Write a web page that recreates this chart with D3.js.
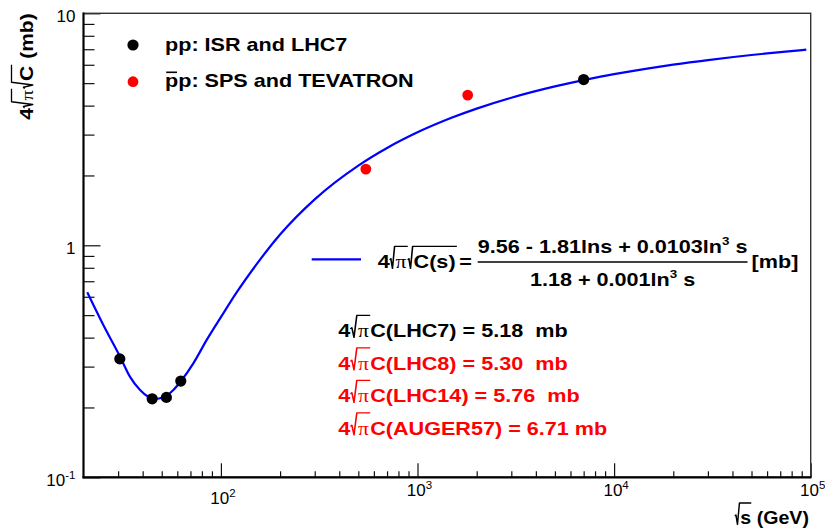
<!DOCTYPE html>
<html>
<head>
<meta charset="utf-8">
<script src="https://cdn.jsdelivr.net/npm/d3@7"></script>
<style>
  body { margin: 0; background: #fff; }
  svg { display: block; }
  text { white-space: pre; }
</style>
</head>
<body>
<svg id="chart" width="825" height="529"></svg>
<script>
// pp measurements (ISR and LHC 7 TeV): sqrt(s) in GeV, 4*sqrt(pi*C) in mb
const ppSqrtS = [30.6, 44.7, 52.8, 62.5, 7000];
const ppValue = [0.324, 0.218, 0.221, 0.260, 5.18];

// pbar-p measurements (SPS and Tevatron)
const ppbarSqrtS = [546, 1800];
const ppbarValue = [2.13, 4.44];

// fitted curve 4*sqrt(pi)*sqrt(C(s)) sampled along sqrt(s)
const fitSqrtS = [20.9, 25, 30.7, 34.5, 38.8, 42.7, 46.2, 50.9, 57.3, 63.2, 72.4, 84.7,
                  100, 120, 150, 200, 300, 500, 700, 1000, 1500, 2000, 3000, 5000,
                  7000, 10000, 15000, 20000, 30000, 50000, 70000, 95000];
const fitValue  = [0.627, 0.46, 0.331, 0.271, 0.238, 0.2225, 0.2176, 0.2212, 0.2378, 0.2626, 0.310, 0.391,
                   0.49, 0.625, 0.817, 1.113, 1.578, 2.206, 2.628, 3.069, 3.554, 3.884, 4.326, 4.841,
                   5.154, 5.464, 5.790, 6.005, 6.286, 6.609, 6.802, 6.967];

// axis decades
const xTickPowers = [2, 3, 4, 5];
const yTickPowers = [-1, 0, 1];

// predicted values listed under the curve
const predictionNames  = ["LHC7", "LHC8", "LHC14", "AUGER57"];
const predictionValues = ["5.18  mb", "5.30  mb", "5.76  mb", "6.71 mb"];
const predictionColors = ["#000000", "#ff0000", "#ff0000", "#ff0000"];

// fit formula pieces
const fitNumerator   = ["9.56 - 1.81lns + 0.0103ln", "3", " s"];
const fitDenominator = ["1.18 + 0.001ln", "3", " s"];

const svg = d3.select("#chart");
const W = 825, H = 529;
const frame = { left: 83.5, right: 810.7, top: 13.3, bottom: 477.3 };

const x = d3.scaleLog().domain([20, 1e5]).range([frame.left, frame.right]);
const y = d3.scaleLog().domain([0.1, 10]).range([frame.bottom, frame.top]);

const SANS = "'Liberation Sans', Arial, Helvetica, sans-serif";
const SERIF = "'Liberation Serif', 'DejaVu Serif', serif";
const STRETCH = 1.2;

svg.append("rect").attr("width", W).attr("height", H).attr("fill", "#fff");

// ---------- small TLatex-like text layout: runs, sqrt, overbar, superscript ----------
function latex(parent, items, opt) {
  const size = opt.size || 18;
  const fill = opt.fill || "#000";
  const sx = opt.sx == null ? STRETCH : opt.sx;
  const lead = opt.lead == null ? 0.36 : opt.lead;
  const g = parent.append("g");
  const inner = g.append("g");
  let cx = 0;
  function place(list) {
    for (const it of list) {
      if (it.gap) { cx += it.gap; continue; }
      if (it.sqrt) {
        const x0 = cx;
        cx += size * lead;
        place(it.sqrt);
        const end = cx + (it.pad == null ? size * 0.06 : it.pad);
        const top = -size * 1.2;
        const k = lead / 0.36;
        inner.append("path")
          .attr("d", `M${x0},${-size * 0.45}L${x0 + size * 0.07 * k},${-size * 0.52}L${x0 + size * 0.17 * k},${size * 0.02}L${x0 + size * 0.3 * k},${top}L${end},${top}`)
          .attr("fill", "none").attr("stroke", fill).attr("stroke-width", 1.3)
          .attr("stroke-linejoin", "round");
        cx = end + (it.after || 0);
      } else if (it.bar) {
        const x0 = cx;
        place(it.bar);
        inner.append("line")
          .attr("x1", x0 + 1).attr("x2", cx - 1)
          .attr("y1", -size * 0.8).attr("y2", -size * 0.8)
          .attr("stroke", fill).attr("stroke-width", 1.6);
      } else {
        const fs = it.sup ? size * 0.62 : size * (it.scale || 1);
        const t = inner.append("text")
          .attr("x", cx).attr("y", it.sup ? -size * 0.45 : 0)
          .attr("font-family", it.sym ? SERIF : SANS)
          .attr("font-weight", it.sym ? "normal" : (opt.weight || "bold"))
          .attr("font-size", fs)
          .attr("fill", fill)
          .text(it.t);
        cx += t.node().getComputedTextLength();
      }
    }
  }
  place(items);
  const w = cx * sx;
  const off = opt.anchor === "end" ? -w : opt.anchor === "middle" ? -w / 2 : 0;
  inner.attr("transform", `translate(${off},0) scale(${sx},1)`);
  g.attr("transform", `translate(${opt.x},${opt.y})` + (opt.rotate ? ` rotate(${opt.rotate})` : ""));
  return w;
}

// ---------- frame and axes ----------
const xMinor = [], yMinor = [];
for (let p = 1; p < 5; p++) for (let m = 2; m <= 9; m++) {
  const v = m * Math.pow(10, p);
  if (v > 20 && v < 1e5) xMinor.push(v);
}
for (let p = -1; p < 1; p++) for (let m = 2; m <= 9; m++) yMinor.push(m * Math.pow(10, p));
const xMajor = xTickPowers.map(p => Math.pow(10, p));
const yMajor = yTickPowers.map(p => Math.pow(10, p));

function styleAxis(sel) {
  sel.select(".domain").remove();
  sel.selectAll(".tick line").attr("stroke", "#111").attr("stroke-width", 1.2);
  sel.selectAll(".tick text").remove();
}

const xAxisG = svg.append("g").attr("transform", `translate(0,${frame.bottom})`);
xAxisG.append("g").call(d3.axisBottom(x).tickValues(xMinor).tickSize(-6).tickFormat("")).call(styleAxis);
xAxisG.append("g").call(d3.axisBottom(x).tickValues(xMajor).tickSize(-14).tickFormat("")).call(styleAxis);

const yAxisG = svg.append("g").attr("transform", `translate(${frame.left},0)`);
yAxisG.append("g").call(d3.axisLeft(y).tickValues(yMinor).tickSize(-11).tickFormat("")).call(styleAxis);
yAxisG.append("g").call(d3.axisLeft(y).tickValues(yMajor).tickSize(-17).tickFormat("")).call(styleAxis);

// frame box, with heavier axis lines on the left and bottom
svg.append("rect")
  .attr("x", frame.left).attr("y", frame.top)
  .attr("width", frame.right - frame.left).attr("height", frame.bottom - frame.top)
  .attr("fill", "none").attr("stroke", "#333").attr("stroke-width", 1.4);
svg.append("line").attr("x1", frame.left).attr("x2", frame.left)
  .attr("y1", frame.top - 0.7).attr("y2", frame.bottom + 1)
  .attr("stroke", "#000").attr("stroke-width", 2);
svg.append("line").attr("x1", frame.left - 1).attr("x2", frame.right + 0.7)
  .attr("y1", frame.bottom).attr("y2", frame.bottom)
  .attr("stroke", "#000").attr("stroke-width", 2.2);

// tick labels
function powerLabel(parent, p, px, py, anchor) {
  const t = parent.append("text")
    .attr("x", px).attr("y", py)
    .attr("text-anchor", anchor)
    .attr("font-family", SANS).attr("font-size", 17).attr("fill", "#000");
  if (p === 0) { t.text("1"); return; }
  t.append("tspan").text("10");
  if (p !== 1) t.append("tspan").attr("font-size", 11.5).attr("dy", -7).text(String(p));
}
xTickPowers.forEach(p => powerLabel(svg, p, x(Math.pow(10, p)) + 2, frame.bottom + (p === 2 ? 26.5 : 18.5), "middle"));
yTickPowers.forEach(p => powerLabel(svg, p, 75.5, y(Math.pow(10, p)) + 8.5, "end"));

// axis titles
latex(svg, [{ t: "4" }, { sqrt: [{ t: "π", sym: true }] }, { sqrt: [{ t: "C" }] }, { t: " (mb)" }],
  { x: 32.5, y: frame.top, size: 17.5, rotate: -90, anchor: "end" });
latex(svg, [{ sqrt: [{ t: "s" }], pad: 0 }, { t: " (GeV)" }],
  { x: 809, y: 524, size: 17.5, anchor: "end", sx: 1.12, lead: 0.28 });

// ---------- fitted curve ----------
const fitPoints = fitSqrtS.map((s, i) => [s, fitValue[i]]);
const line = d3.line().x(d => x(d[0])).y(d => y(d[1])).curve(d3.curveMonotoneX);
svg.append("path").datum(fitPoints)
  .attr("d", line).attr("fill", "none")
  .attr("stroke", "#0000ff").attr("stroke-width", 2.2).attr("stroke-linejoin", "round");

// ---------- data points ----------
svg.append("g").selectAll("circle").data(ppSqrtS.map((s, i) => [s, ppValue[i]]))
  .join("circle").attr("cx", d => x(d[0])).attr("cy", d => y(d[1])).attr("r", 5.6).attr("fill", "#000");
svg.append("g").selectAll("circle").data(ppbarSqrtS.map((s, i) => [s, ppbarValue[i]]))
  .join("circle").attr("cx", d => x(d[0])).attr("cy", d => y(d[1])).attr("r", 5.4).attr("fill", "#ff0000");

// ---------- legend (top left) ----------
svg.append("circle").attr("cx", 133).attr("cy", 45).attr("r", 5.6).attr("fill", "#000");
latex(svg, [{ t: "pp: ISR and LHC7" }], { x: 165, y: 50.5, size: 18 });
svg.append("circle").attr("cx", 133).attr("cy", 81.7).attr("r", 5.4).attr("fill", "#ff0000");
latex(svg, [{ bar: [{ t: "p" }] }, { t: "p: SPS and TEVATRON" }], { x: 165, y: 86.7, size: 18 });

// ---------- fit legend ----------
svg.append("line").attr("x1", 311.7).attr("x2", 361).attr("y1", 259.3).attr("y2", 259.3)
  .attr("stroke", "#0000ff").attr("stroke-width", 2.2);
latex(svg, [{ t: "4" }, { sqrt: [{ t: "π", sym: true }] }, { sqrt: [{ t: "C(s)" }] }, { gap: 2 }, { t: "=" }],
  { x: 377.7, y: 268, size: 18, lead: 0.27 });
const numStart = 477.7;
const numW = latex(svg, [{ t: fitNumerator[0] }, { t: fitNumerator[1], sup: true }, { t: fitNumerator[2] }],
  { x: numStart, y: 253, size: 18 });
svg.append("line").attr("x1", numStart).attr("x2", numStart + numW).attr("y1", 262).attr("y2", 262)
  .attr("stroke", "#000").attr("stroke-width", 1.6);
latex(svg, [{ t: fitDenominator[0] }, { t: fitDenominator[1], sup: true }, { t: fitDenominator[2] }],
  { x: numStart + numW / 2, y: 286, size: 18, anchor: "middle" });
latex(svg, [{ t: "[mb]" }], { x: numStart + numW + 4, y: 268, size: 18 });

// ---------- predictions ----------
predictionNames.forEach((name, i) => {
  latex(svg,
    [{ t: "4" }, { sqrt: [{ t: "π", sym: true }], pad: 1 }, { t: `C(${name}) = ${predictionValues[i]}` }],
    { x: 338.3, y: 337 + i * 32.5, size: 18, fill: predictionColors[i] });
});
</script>
</body>
</html>
